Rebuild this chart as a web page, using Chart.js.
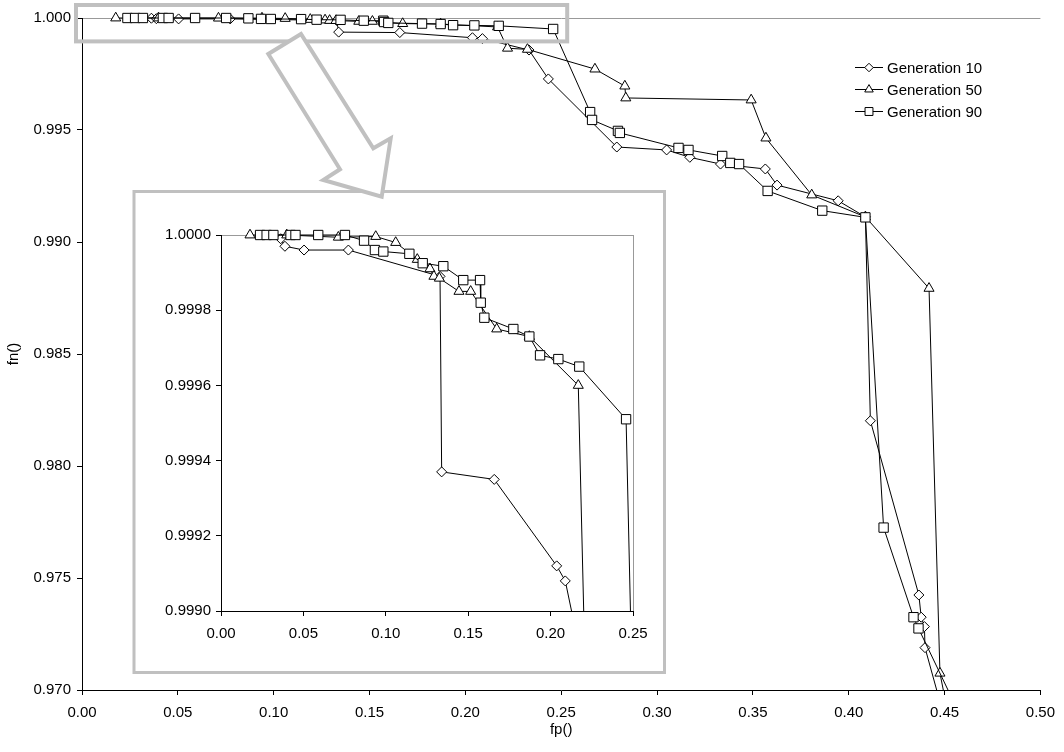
<!DOCTYPE html>
<html>
<head>
<meta charset="utf-8">
<script src="https://cdn.jsdelivr.net/npm/chart.js@4.4.0/dist/chart.umd.min.js"></script>
<style>
    html, body { margin: 0; padding: 0; background: #fff; }
    #wrap { position: relative; width: 1064px; height: 752px; }
    #mainChart { position: absolute; left: 0; top: 0; }
    #insetChart { position: absolute; left: 136px; top: 193px; }
</style>
</head>
<body>
<div id="wrap">
    <canvas id="mainChart" width="1064" height="752"></canvas>
    <canvas id="insetChart" width="527" height="478"></canvas>
</div>
<script>
Chart.defaults.font.family = "'Liberation Sans', Arial, sans-serif";
Chart.defaults.font.size = 15;
Chart.defaults.color = '#000';
Chart.defaults.animation = false;

// Generation 10 (diamonds)
const gen10Fp = [0.0362, 0.0388, 0.0504, 0.0773, 0.1329, 0.1339, 0.1658, 0.2037, 0.2089, 0.2332, 0.2433,
    0.2790, 0.3050, 0.3171, 0.3331, 0.3565, 0.3626, 0.3945, 0.4087, 0.4113, 0.4366, 0.4378, 0.4395, 0.4398, 0.4475];
const gen10Fn = [0.99999, 0.99997, 0.99996, 0.99996, 0.99989, 0.99937, 0.99935, 0.99912, 0.99908, 0.99857, 0.99728,
    0.99424, 0.99411, 0.99378, 0.99348, 0.99326, 0.99254, 0.99184, 0.99112, 0.98202, 0.97424, 0.97325, 0.97283, 0.97189, 0.9695];

// Generation 50 (triangles)
const gen50Fp = [0.0176, 0.0399, 0.0712, 0.0939, 0.1060, 0.1191, 0.1268, 0.1292, 0.1325, 0.1444, 0.1515, 0.1673, 0.1871,
    0.2168, 0.2220, 0.2324, 0.2676, 0.2832, 0.2837, 0.3491, 0.3568, 0.3807, 0.4087, 0.4419, 0.4476, 0.4505];
const gen50Fn = [1.0, 1.0, 0.999994, 0.999996, 0.99998, 0.999935, 0.99991, 0.99989, 0.999885, 0.99985, 0.99985, 0.99975, 0.99973,
    0.99960, 0.99865, 0.99860, 0.99772, 0.99696, 0.99643, 0.99634, 0.99464, 0.99210, 0.99112, 0.98793, 0.97075, 0.9695];

// Generation 90 (squares)
const gen90Fp = [0.0237, 0.0277, 0.0318, 0.0422, 0.0452, 0.0590, 0.0752, 0.0868, 0.0934, 0.0985, 0.1143, 0.1224, 0.1349,
    0.1470, 0.1572, 0.1576, 0.1598, 0.1774, 0.1871, 0.1936, 0.2047, 0.2174, 0.2458, 0.2651, 0.2661, 0.2796, 0.2806,
    0.3112, 0.3164, 0.3340, 0.3382, 0.3428, 0.3577, 0.3862, 0.4087, 0.4182, 0.4338, 0.4364, 0.4546];
const gen90Fn = [1.0, 1.0, 1.0, 1.0, 1.0, 1.0, 1.0, 0.999985, 0.99996, 0.999956, 0.99995, 0.999925, 0.999917,
    0.99988, 0.99988, 0.99982, 0.99978, 0.99975, 0.99973, 0.99968, 0.99967, 0.99965, 0.99951, 0.99580, 0.99545, 0.99496, 0.99487,
    0.99420, 0.99411, 0.99384, 0.99353, 0.99348, 0.99228, 0.99140, 0.99110, 0.97725, 0.97325, 0.97275, 0.9695];

// tick labels
const mainXTicks = [0, 0.05, 0.10, 0.15, 0.20, 0.25, 0.30, 0.35, 0.40, 0.45, 0.50];
const mainYTicks = [0.970, 0.975, 0.980, 0.985, 0.990, 0.995, 1.000];
const insetXTicks = [0, 0.05, 0.10, 0.15, 0.20, 0.25];
const insetYTicks = [0.9990, 0.9992, 0.9994, 0.9996, 0.9998, 1.0000];

const SERIES = [
    { label: 'Generation 10', fp: gen10Fp, fn: gen10Fn, pointStyle: 'rectRot', radius: 5, order: 2 },
    { label: 'Generation 50', fp: gen50Fp, fn: gen50Fn, pointStyle: 'triangle', radius: 5.8, order: 1 },
    { label: 'Generation 90', fp: gen90Fp, fn: gen90Fn, pointStyle: 'rect', radius: 6.6, order: 0 }
];

const FRAME_GRAY = '#999';
const NOTE_GRAY = '#c0c0c0';

function makeDatasets(clip) {
    return SERIES.map(s => ({
        label: s.label,
        data: s.fp.map((x, i) => ({ x, y: s.fn[i] })),
        showLine: true,
        borderColor: '#000', borderWidth: 1,
        pointStyle: s.pointStyle, pointRadius: s.radius,
        pointBackgroundColor: '#fff', pointBorderColor: '#000', pointBorderWidth: 1,
        order: s.order,
        clip
    }));
}

function axis(min, max, ticks, fmt, edgeValue, fitFn, pad) {
    return {
        type: 'linear', min, max,
        afterBuildTicks: a => { a.ticks = ticks.map(v => ({ value: v })); },
        afterFit: fitFn,
        ticks: { autoSkip: false, maxRotation: 0, padding: pad, callback: v => v.toFixed(fmt) },
        grid: {
            drawOnChartArea: true, drawTicks: true, tickLength: 5, tickColor: '#000',
            color: c => (c.tick && Math.abs(c.tick.value - edgeValue) < 1e-9) ? FRAME_GRAY : 'rgba(0,0,0,0)'
        },
        border: { display: true, color: '#000', width: 1 }
    };
}

// grey zoom box, inset frame and arrow
const INSET_BOX = { left: 134, top: 191.5, right: 664.5, bottom: 672.5 };
const ARROW = [[301, 34], [268.3, 54], [340, 169.3], [323.3, 180], [381.7, 196.7], [390.7, 138.3], [373.3, 148.3]];

const notesPlugin = {
    id: 'notes',
    afterDraw(chart) {
        const { ctx, scales: { x, y }, chartArea } = chart;
        ctx.save();
        ctx.strokeStyle = NOTE_GRAY;
        // highlight around the zoomed region
        ctx.lineWidth = 4;
        const l = x.getPixelForValue(0) - 6, r = x.getPixelForValue(0.25) + 6;
        const t = chartArea.top - 13, b = y.getPixelForValue(0.999) + 1;
        ctx.strokeRect(l, t, r - l, b - t);
        // inset frame
        ctx.lineWidth = 3;
        ctx.strokeRect(INSET_BOX.left, INSET_BOX.top, INSET_BOX.right - INSET_BOX.left, INSET_BOX.bottom - INSET_BOX.top);
        // arrow
        ctx.lineWidth = 4;
        ctx.lineJoin = 'miter';
        ctx.beginPath();
        ARROW.forEach(([px, py], i) => i ? ctx.lineTo(px, py) : ctx.moveTo(px, py));
        ctx.closePath();
        ctx.fillStyle = '#fff';
        ctx.fill();
        ctx.stroke();
        ctx.restore();
    }
};

const LEGEND = { lineX0: 855, lineX1: 883, textX: 887, top: 67.5, rowGap: 22 };

const legendPlugin = {
    id: 'sideLegend',
    afterDraw(chart) {
        const { ctx } = chart;
        ctx.save();
        SERIES.forEach((s, i) => {
            const yy = LEGEND.top + i * LEGEND.rowGap;
            ctx.strokeStyle = '#000';
            ctx.lineWidth = 1;
            ctx.beginPath();
            ctx.moveTo(LEGEND.lineX0, yy);
            ctx.lineTo(LEGEND.lineX1, yy);
            ctx.stroke();
            ctx.fillStyle = '#fff';
            Chart.helpers.drawPoint(ctx, { pointStyle: s.pointStyle, radius: s.radius * 0.85, borderWidth: 1, rotation: 0 },
                (LEGEND.lineX0 + LEGEND.lineX1) / 2, yy);
            ctx.fillStyle = '#000';
            ctx.font = "15px 'Liberation Sans', Arial, sans-serif";
            ctx.textBaseline = 'middle';
            ctx.textAlign = 'left';
            ctx.fillText(s.label, LEGEND.textX, yy + 1);
        });
        ctx.restore();
    }
};

const mainX = axis(0, 0.5, mainXTicks, 2, -1, s => { s.height = 62; }, 9);
mainX.title = { display: true, text: 'fp()', padding: { top: 0, bottom: 13 } };
const mainY = axis(0.97, 1.0, mainYTicks, 3, 1, s => { s.width = 82; }, 6);
mainY.title = { display: true, text: 'fn()', padding: { top: 5, bottom: 0 } };

new Chart(document.getElementById('mainChart'), {
    type: 'scatter',
    data: { datasets: makeDatasets({ left: 10, top: 10, right: 10, bottom: 0 }) },
    options: {
        responsive: false, animation: false, events: [],
        layout: { padding: { left: 0, top: 18, right: 18, bottom: 0 } },
        plugins: { legend: { display: false }, tooltip: { enabled: false } },
        scales: { x: mainX, y: mainY }
    },
    plugins: [notesPlugin, legendPlugin]
});

new Chart(document.getElementById('insetChart'), {
    type: 'scatter',
    data: { datasets: makeDatasets({ left: 10, top: 10, right: 0, bottom: 0 }) },
    options: {
        responsive: false, animation: false, events: [],
        layout: { padding: { left: 0, top: 42, right: 30, bottom: 0 } },
        plugins: { legend: { display: false }, tooltip: { enabled: false } },
        scales: {
            x: axis(0, 0.25, insetXTicks, 2, 0.25, s => { s.height = 60; }, 9),
            y: axis(0.999, 1.0, insetYTicks, 4, 1, s => { s.width = 85; }, 5)
        }
    }
});
</script>
</body>
</html>
